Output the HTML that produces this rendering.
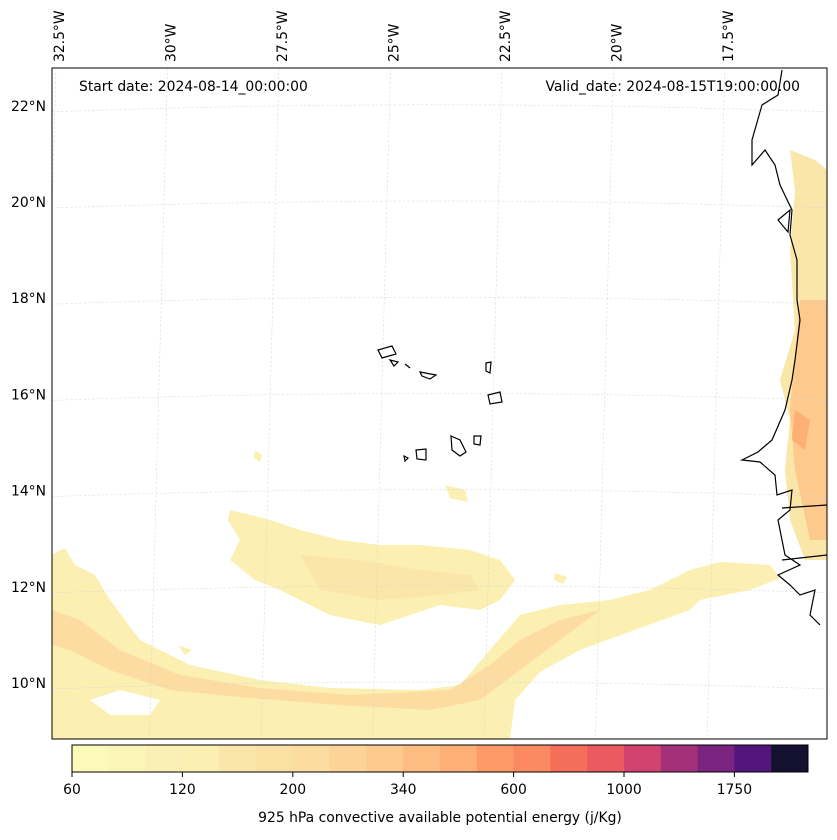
<!DOCTYPE html>
<html><head><meta charset="utf-8"><style>
body{margin:0;background:#fff;font-family:"DejaVu Sans","Liberation Sans",sans-serif}
svg text{font-family:"DejaVu Sans","Liberation Sans",sans-serif;font-size:13.9px;fill:#000}
</style></head><body>
<svg id="chart" width="837" height="836">
<defs><clipPath id="mapclip"><rect x="52" y="68" width="775" height="671"/></clipPath></defs>
<g id="fields" clip-path="url(#mapclip)">
<path d="M52,555 L65,548 L75,565 L95,575 L110,600 L140,640 L190,665 L260,680 L330,688 L420,690 L460,685 L490,650 L520,615 L560,605 L610,600 L650,590 L690,570 L720,562 L770,565 L780,578 L750,590 L700,600 L690,610 L640,628 L580,650 L540,672 L515,700 L510,739 L52,739 Z" fill="#fbefb2"/>
<path d="M52,610 L80,620 L120,650 L180,675 L260,688 L350,695 L450,690 L490,665 L520,640 L560,620 L600,610 L560,640 L520,670 L480,700 L430,710 L340,705 L250,698 L170,690 L110,670 L70,650 L52,645 Z" fill="#fcdca0"/>
<path d="M90,700 L120,690 L160,700 L150,715 L110,715 Z" fill="#fff"/>
<path d="M230,510 L270,520 L300,530 L340,540 L380,545 L420,545 L470,550 L500,560 L515,580 L500,600 L480,610 L440,605 L410,615 L380,625 L330,615 L300,600 L280,590 L255,580 L230,560 L240,540 L228,520 Z" fill="#fbefb2"/>
<path d="M300,555 L360,560 L420,570 L470,575 L480,590 L440,595 L380,600 L320,590 Z" fill="#fbe6a9"/>
<path d="M790,150 L815,160 L827,170 L827,560 L805,560 L790,520 L785,470 L790,420 L780,380 L795,330 L790,250 L795,190 Z" fill="#fbe6a9"/>
<path d="M800,300 L827,300 L827,540 L810,540 L795,470 L790,410 Z" fill="#fdc98d"/>
<path d="M795,410 L810,420 L805,450 L792,440 Z" fill="#fdaf76"/>
<path d="M445,485 L465,490 L468,502 L450,498 Z M255,450 L262,455 L260,462 L254,458 Z M555,573 L567,577 L563,584 L554,580 Z M178,645 L192,650 L185,655 Z" fill="#fbefb2"/>
</g>
<g id="grid" clip-path="url(#mapclip)" stroke="#d4d4d4" stroke-width="0.5" stroke-dasharray="2.5,2" fill="none"></g>
<g id="coast" clip-path="url(#mapclip)" stroke="#000" stroke-width="1.2" fill="none">
<path d="M782,70 L778,95 L762,105 L752,140 L752,165 L765,150 L775,165 L780,185 L792,210 L790,235 L797,260 L797,300 L800,320 L795,360 L792,380 L785,410 L772,440 L758,452 L742,460 L760,462 L775,475 L777,495 L792,490 L790,510 L778,520 L782,540 L785,555 L800,565 L778,575 L790,585 L800,595 L815,590 L810,615 L820,625"/>
<path d="M778,220 L790,210 L788,232 Z M782,508 L827,505 M782,560 L827,555"/>
<path d="M378,350 L392,346 L396,354 L382,358 Z M390,360 L398,362 L394,366 Z M405,364 L410,368 M420,372 L436,375 L430,379 L422,376 Z M486,363 L491,362 L490,373 L486,371 Z M488,395 L500,392 L502,402 L490,404 Z M451,436 L460,440 L466,452 L460,456 L452,450 Z M474,436 L481,436 L480,445 L474,444 Z M416,450 L426,449 L426,460 L417,459 Z M404,456 L408,458 L405,461 Z"/>
</g>
<rect x="52" y="68" width="775" height="671" fill="none" stroke="#000" stroke-width="1"/>
<text x="79" y="91">Start date: 2024-08-14_00:00:00</text>
<text x="800" y="91" text-anchor="end">Valid_date: 2024-08-15T19:00:00.00</text>
<g id="latlabels"></g>
<g id="lonlabels"></g>
<g id="cbar"></g>
<text x="440" y="822" text-anchor="middle">925 hPa convective available potential energy (j/Kg)</text>
</svg>
<script>
const latTicks=[22,20,18,16,14,12,10];
const lonTicks=[-32.5,-30,-27.5,-25,-22.5,-20,-17.5];
const levelLabels=["60","120","200","340","600","1000","1750"];
const binColors=["#fcfab8","#fbf5b7","#faf0b5","#fbefb2","#fbe6a9","#fbe0a4","#fcdca0","#fdd397","#fdc98d","#fdbc82","#fdaf76","#fd9a66","#fb8a62","#f56e5a","#eb5a60","#d24270","#a5307a","#7a237f","#52167a","#14102f"];
const NS="http://www.w3.org/2000/svg";
const yLat=l=>683-(l-10)*48.1;
const xLon=l=>60+(l+32.5)*44.6;
function mk(t,a,p){const e=document.createElementNS(NS,t);for(const k in a)e.setAttribute(k,a[k]);p.appendChild(e);return e;}
const grid=document.getElementById('grid');
latTicks.forEach(l=>{const y=yLat(l);
 const p=mk('path',{d:`M52,${y+6} Q440,${y-8} 827,${y+6}`},grid);
 
 
 const t=mk('text',{x:46,y:y+5,'text-anchor':'end'},document.getElementById('latlabels'));
 t.textContent=l+'°N';
 
 
});
lonTicks.forEach(l=>{const x=xLon(l);
 const p=mk('path',{d:`M${x-4},68 L${x-22},739`},grid);
 
 
 const t=mk('text',{x:x+4,y:62,transform:`rotate(-90 ${x+4} 62)`},document.getElementById('lonlabels'));
 t.textContent=Math.abs(l)+'°W';
 
 
});
const cb=document.getElementById('cbar');const x0=72,x1=808,w=(x1-x0)/binColors.length;
binColors.forEach((c,i)=>{const r=mk('rect',{x:x0+i*w,y:745,width:w+0.5,height:27,fill:c},cb);
 
 });
mk('rect',{x:x0,y:745,width:x1-x0,height:27,fill:'none',stroke:'#000'},cb);
levelLabels.forEach((s,i)=>{const x=x0+i*3*w;
 mk('line',{x1:x,x2:x,y1:772,y2:777,stroke:'#000'},cb);
 const t=mk('text',{x:x,y:794,'text-anchor':'middle'},cb);t.textContent=s;
 
 });
</script>
</body></html>
